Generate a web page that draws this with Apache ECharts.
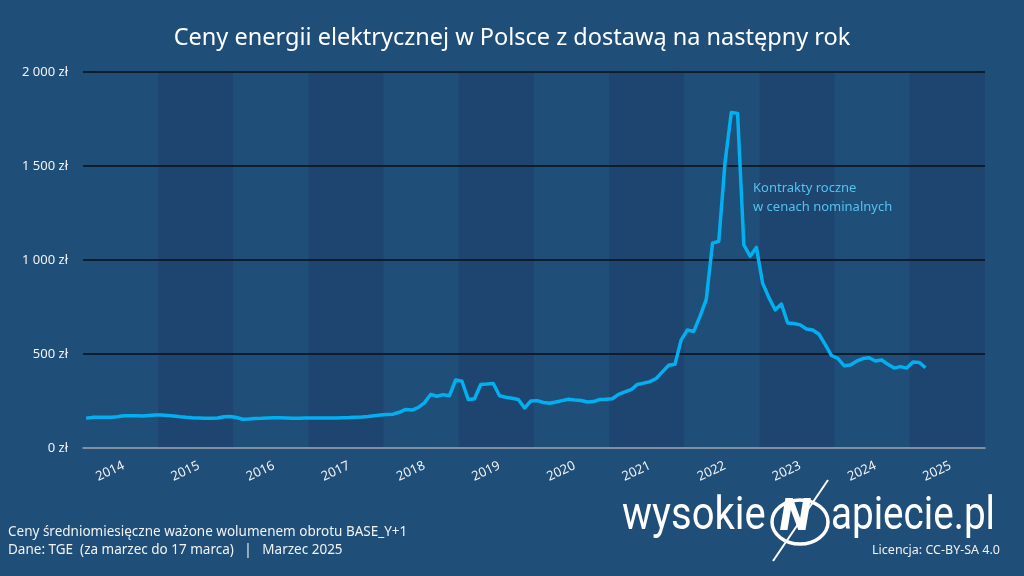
<!DOCTYPE html>
<html>
<head>
<meta charset="utf-8">
<script src="https://cdn.jsdelivr.net/npm/echarts@6/dist/echarts.min.js"></script>
<style>
  html, body { margin: 0; padding: 0; background: #1f4e79; }
  #chart { width: 1024px; height: 576px; }
</style>
</head>
<body>
<div id="chart"></div>
<script>
  // lata na osi X (każdy rok = 12 miesięcy)
  const years = ["2014", "2015", "2016", "2017", "2018", "2019", "2020", "2021", "2022", "2023", "2024", "2025"];

  // średnie miesięczne ceny BASE_Y+1, zł/MWh, od stycznia 2014 do marca 2025
  const prices2014 = [158, 163, 164, 164, 164, 166, 172, 171, 172, 170, 173, 175];
  const prices2015 = [176, 173, 170, 166, 163, 161, 160, 158, 158, 160, 166, 168];
  const prices2016 = [162, 153, 154, 157, 158, 160, 161, 161, 160, 158, 158, 159];
  const prices2017 = [159, 159, 160, 160, 160, 161, 162, 164, 165, 168, 172, 176];
  const prices2018 = [178, 180, 190, 205, 202, 215, 240, 285, 275, 284, 278, 362];
  const prices2019 = [355, 258, 262, 338, 340, 343, 278, 270, 265, 258, 213, 250];
  const prices2020 = [252, 242, 238, 245, 252, 259, 255, 253, 245, 247, 258, 259];
  const prices2021 = [262, 285, 298, 310, 338, 345, 353, 370, 405, 440, 445, 575];
  const prices2022 = [628, 620, 700, 790, 1090, 1100, 1520, 1785, 1780, 1080, 1020, 1067];
  const prices2023 = [876, 800, 735, 766, 665, 662, 655, 633, 628, 605, 550, 492];
  const prices2024 = [477, 438, 442, 462, 476, 480, 463, 468, 445, 425, 433, 425];
  const prices2025 = [458, 455, 427];

  const yTicks = [0, 500, 1000, 1500, 2000];

  const prices = [].concat(prices2014, prices2015, prices2016, prices2017, prices2018, prices2019,
    prices2020, prices2021, prices2022, prices2023, prices2024, prices2025);

  const months = [];
  years.forEach((y) => {
    for (let m = 1; m <= 12; m++) months.push(y + "-" + (m < 10 ? "0" + m : m));
  });

  const font = "'Noto Sans', 'Open Sans', sans-serif";
  const logoFont = "46px Roboto, 'Noto Sans', sans-serif";
  const white = "#f2f2f2";

  function zl(v) {
    return String(v).replace(/\B(?=(\d{3})+(?!\d))/g, " ") + " zł";
  }

  const chart = echarts.init(document.getElementById("chart"), null, { renderer: "canvas" });

  chart.setOption({
    backgroundColor: "#1f4e79",
    animation: false,
    textStyle: { fontFamily: font },
    title: {
      text: "Ceny energii elektrycznej w Polsce z dostawą na następny rok",
      left: "center",
      top: 21,
      textStyle: { color: "#ffffff", fontSize: 23.5, fontWeight: "normal", fontFamily: font }
    },
    grid: { left: 83, right: 39, top: 72, bottom: 128, containLabel: false },
    xAxis: {
      type: "category",
      data: months,
      boundaryGap: true,
      z: 0,
      axisTick: { show: false },
      axisLine: { lineStyle: { color: "#a6a6a6", width: 1.5 } },
      axisLabel: {
        interval: (i) => i % 12 === 6,
        formatter: (v) => v.slice(0, 4),
        rotate: 25,
        margin: 17,
        color: white,
        fontSize: 13,
        fontFamily: font
      },
      splitLine: { show: false },
      splitArea: {
        show: true,
        interval: (i) => i % 12 === 0,
        areaStyle: { color: ["#1f4e79", "#1e4570"] }
      }
    },
    yAxis: {
      type: "value",
      min: yTicks[0],
      max: yTicks[yTicks.length - 1],
      interval: 500,
      z: 1,
      axisLine: { show: false },
      axisTick: { show: false },
      axisLabel: { formatter: zl, color: white, fontSize: 13, margin: 15, fontFamily: font },
      splitLine: {
        show: true,
        lineStyle: { color: ["transparent", "#0a0f16", "#0a0f16", "#0a0f16", "#0a0f16"], width: 1.5 }
      }
    },
    series: [
      {
        type: "line",
        data: prices,
        showSymbol: false,
        symbol: "none",
        lineStyle: { color: "#00b0f0", width: 3.5, join: "round" },
        z: 5
      }
    ],
    graphic: [
      {
        type: "text",
        left: 753,
        top: 179,
        z: 100,
        style: {
          text: "Kontrakty roczne\nw cenach nominalnych",
          fill: "#54c2f0",
          font: "13px " + font,
          lineHeight: 19
        }
      },
      {
        type: "text",
        left: 8,
        top: 525,
        z: 100,
        style: {
          text: "Ceny średniomiesięczne ważone wolumenem obrotu BASE_Y+1",
          fill: white,
          font: "13.5px " + font
        }
      },
      {
        type: "text",
        left: 8,
        top: 543,
        z: 100,
        style: {
          text: "Dane: TGE  (za marzec do 17 marca)   |   Marzec 2025",
          fill: white,
          font: "13.5px " + font
        }
      },
      {
        type: "text",
        right: 24,
        top: 544,
        z: 100,
        style: {
          text: "Licencja: CC-BY-SA 4.0",
          fill: white,
          font: "12.5px " + font
        }
      },
      // logo wysokienapiecie.pl
      {
        type: "text",
        x: 622,
        y: 494,
        scaleX: 0.87,
        z: 100,
        style: { text: "wysokie", fill: "#ffffff", font: logoFont }
      },
      {
        type: "ellipse",
        z: 100,
        shape: { cx: 800, cy: 522, rx: 28, ry: 22 },
        style: { fill: "none", stroke: "#ffffff", lineWidth: 3.5 }
      },
      {
        type: "text",
        x: 780,
        y: 497,
        z: 100,
        style: { text: "N", fill: "#ffffff", font: "italic 900 44px Roboto, sans-serif" }
      },
      {
        type: "line",
        z: 101,
        shape: { x1: 828, y1: 480, x2: 773, y2: 561 },
        style: { stroke: "#ffffff", lineWidth: 2 }
      },
      {
        type: "text",
        x: 831,
        y: 494,
        scaleX: 0.84,
        z: 100,
        style: { text: "apiecie.pl", fill: "#ffffff", font: logoFont }
      }
    ]
  });

  window.addEventListener("resize", () => chart.resize());
</script>
</body>
</html>
